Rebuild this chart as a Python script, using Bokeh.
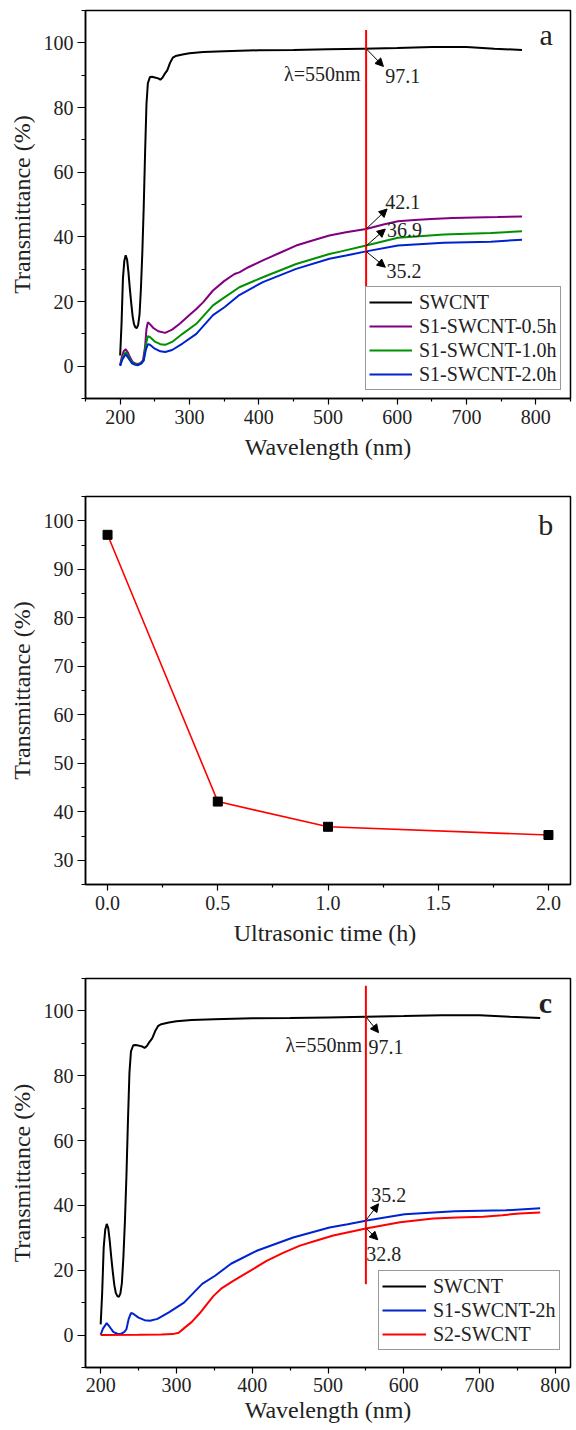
from bokeh.plotting import figure
from bokeh.layouts import column
from bokeh.models import (Range1d, FixedTicker, Legend, LegendItem, Label, Arrow,
                          NormalHead, PrintfTickFormatter, ColumnDataSource)
from bokeh.embed import file_html
from bokeh.resources import INLINE

FONT = "'Liberation Serif', 'Times New Roman', serif"

# ---------------- data ----------------
swcnt_wl = [200, 202, 204, 206, 208, 210, 212, 214, 216, 218, 220, 222, 224, 226, 228, 230, 232, 234,
            236, 238, 240, 243, 246, 250, 255, 258, 261, 264, 268, 272, 276, 280, 290, 300, 320, 350,
            400, 450, 500, 550, 600, 650, 700, 740, 780]
swcnt_T = [3.3, 13.0, 27.0, 32.5, 34.3, 33.0, 29.0, 24.0, 19.5, 15.5, 13.0, 12.0, 11.8, 12.8, 16.0, 24.0,
           35.0, 49.0, 66.0, 81.0, 87.5, 89.4, 89.5, 89.3, 89.0, 88.6, 89.2, 90.3, 91.5, 93.8, 95.4, 95.9,
           96.4, 96.8, 97.2, 97.4, 97.7, 97.8, 98.0, 98.2, 98.4, 98.7, 98.7, 98.2, 97.8]

s05_wl = [200, 202, 205, 208, 211, 214, 218, 222, 225, 229, 233, 236, 238, 240, 243, 248, 255, 265, 275,
          286, 300, 310, 320, 334, 350, 365, 372, 385, 406, 430, 454, 480, 502, 526, 555, 580, 601, 625,
          649, 680, 711, 745, 780]
s05_T = [0.3, 2.5, 4.6, 5.2, 4.3, 2.8, 1.3, 0.8, 0.7, 0.9, 1.8, 6.0, 11.5, 13.6, 13.0, 11.8, 10.8, 10.3,
         11.3, 13.1, 15.8, 17.7, 19.8, 23.4, 26.3, 28.5, 29.0, 30.6, 32.7, 35.0, 37.3, 39.0, 40.4, 41.4,
         42.4, 43.8, 44.8, 45.2, 45.5, 45.8, 46.0, 46.1, 46.3]

s10_wl = [200, 203, 208, 212, 217, 222, 226, 231, 234, 237, 240, 243, 250, 258, 265, 275, 290, 310, 334,
          350, 372, 406, 454, 502, 519, 555, 601, 667, 735, 780]
s10_T = [0.2, 2.4, 4.4, 3.0, 1.2, 0.6, 0.5, 1.0, 1.8, 6.5, 9.3, 9.0, 7.6, 6.8, 6.6, 7.5, 10.0, 13.1, 18.8,
         21.2, 24.4, 27.5, 31.6, 34.7, 35.5, 37.3, 39.7, 40.7, 41.2, 41.7]

s20_wl = [200, 203, 208, 212, 217, 222, 226, 231, 234, 237, 240, 243, 250, 258, 265, 275, 290, 310, 334,
          351, 372, 406, 454, 502, 526, 555, 601, 667, 735, 780]
s20_T = [0.1, 2.0, 3.7, 2.5, 0.9, 0.4, 0.3, 0.9, 1.8, 5.0, 6.8, 6.6, 5.4, 4.6, 4.4, 5.0, 7.0, 10.0, 15.8,
         18.3, 22.0, 26.0, 30.1, 33.2, 34.2, 35.5, 37.3, 38.2, 38.5, 39.1]

s2_wl = [200, 250, 280, 295, 303, 311, 320, 331, 340, 349, 360, 375, 400, 419, 440, 463, 485, 507, 550,
         595, 639, 670, 705, 730, 753, 780]
s2_T = [0.0, 0.1, 0.2, 0.3, 0.7, 2.3, 4.0, 6.8, 9.5, 12.1, 14.5, 16.7, 20.2, 22.9, 25.3, 27.6, 29.2, 30.7,
        32.9, 34.8, 36.0, 36.3, 36.5, 37.0, 37.5, 37.8]

time_h = [0.0, 0.5, 1.0, 2.0]
trans_550 = [97.1, 42.1, 36.9, 35.2]

wl_ticks = [200, 300, 400, 500, 600, 700, 800]
T_ticks = [0, 20, 40, 60, 80, 100]
time_ticks = [0.0, 0.5, 1.0, 1.5, 2.0]
b_ticks = [30, 40, 50, 60, 70, 80, 90, 100]

# marker line at lambda = 550 nm (as drawn)
mark_a_x = 555
mark_a_y = [24.4, 104.0]
mark_c_x = 550
mark_c_y = [15.7, 107.8]

C_BLACK = "#000000"
C_PURPLE = "#800080"
C_GREEN = "#009000"
C_BLUE = "#0022D0"
C_RED = "#FF0000"


def style(p, xticks, xminor, yticks, yminor, xfmt=None, tick_std=5, lab_std=7):
    p.outline_line_color = "black"
    p.outline_line_width = 1.5
    p.grid.visible = False
    for ax in (p.xaxis[0], p.yaxis[0]):
        ax.axis_line_width = 1.5
        ax.major_tick_line_width = 1.2
        ax.minor_tick_line_width = 1.2
        ax.major_tick_in = 0
        ax.minor_tick_in = 0
        ax.major_label_text_font = FONT
        ax.major_label_text_font_size = "20px"
        ax.major_label_text_color = "#222222"
        ax.axis_label_text_font = FONT
        ax.axis_label_text_font_size = "24px"
        ax.axis_label_text_font_style = "normal"
        ax.axis_label_text_color = "#222222"
    p.xaxis[0].major_tick_out = 6
    p.xaxis[0].minor_tick_out = 3
    p.yaxis[0].major_tick_out = 8
    p.yaxis[0].minor_tick_out = 4
    p.xaxis[0].ticker = FixedTicker(ticks=xticks, minor_ticks=xminor)
    p.yaxis[0].ticker = FixedTicker(ticks=yticks, minor_ticks=yminor)
    p.xaxis[0].major_label_standoff = tick_std
    p.xaxis[0].axis_label_standoff = lab_std
    p.yaxis[0].major_label_standoff = 4
    p.yaxis[0].axis_label_standoff = 6
    if xfmt:
        p.xaxis[0].formatter = xfmt


def make_fig(xr, yr, h, top, bottom):
    return figure(width=576, height=h, x_range=Range1d(*xr), y_range=Range1d(*yr),
                  output_backend="svg", toolbar_location=None, title=None,
                  min_border_left=85, min_border_right=6, min_border_top=top,
                  min_border_bottom=bottom, background_fill_color="white",
                  border_fill_color="white")


def add_text(p, x, y, t, size="20px", align="left", base="middle", style_="normal"):
    p.add_layout(Label(x=x, y=y, text=t, text_font=FONT, text_font_size=size,
                       text_align=align, text_baseline=base, text_color="#222222",
                       text_font_style=style_))


def add_arrow(p, x0, y0, x1, y1):
    p.add_layout(Arrow(end=NormalHead(size=8, fill_color="black", line_color="black", line_width=1),
                       x_start=x0, y_start=y0, x_end=x1, y_end=y1,
                       line_color="black", line_width=1))


def make_legend(p, items, loc, gw):
    leg = Legend(items=items, location=loc, padding=3, spacing=0, margin=0,
                 label_height=24, glyph_height=24, glyph_width=gw, label_standoff=7,
                 label_text_font=FONT, label_text_font_size="20px", label_text_color="#222222",
                 border_line_color="#333333", border_line_width=1.2,
                 background_fill_color="white", background_fill_alpha=1.0)
    p.add_layout(leg, "center")


# ---------------- panel a ----------------
pa = make_fig((150, 850), (-10, 110), 470, 10, 72)
style(pa, wl_ticks, [150, 250, 350, 450, 550, 650, 750, 850], T_ticks, [-10, 10, 30, 50, 70, 90, 110])
pa.xaxis.axis_label = "Wavelength (nm)"
pa.yaxis.axis_label = "Transmittance (%)"

la0 = pa.line(swcnt_wl, swcnt_T, line_color=C_BLACK, line_width=2)
la1 = pa.line(s05_wl, s05_T, line_color=C_PURPLE, line_width=2)
la2 = pa.line(s10_wl, s10_T, line_color=C_GREEN, line_width=2)
la3 = pa.line(s20_wl, s20_T, line_color=C_BLUE, line_width=2)
pa.line([mark_a_x, mark_a_x], mark_a_y, line_color=C_RED, line_width=2)

add_text(pa, 547, 90.5, "λ=550nm", align="right")
add_arrow(pa, 555, 98.2, 580, 92.7)
add_text(pa, 582.7, 89.7, "97.1")
add_arrow(pa, 555, 42.4, 585.3, 48.6)
add_text(pa, 582.7, 50.9, "42.1")
add_arrow(pa, 555, 37.2, 582.7, 42.4)
add_text(pa, 585.3, 42.0, "36.9")
add_arrow(pa, 555, 35.5, 582.7, 30.6)
add_text(pa, 584.3, 29.3, "35.2")
add_text(pa, 815, 102.7, "a", size="30px", align="center", base="alphabetic")

make_legend(pa, [LegendItem(label="SWCNT", renderers=[la0]),
                 LegendItem(label="S1-SWCNT-0.5h", renderers=[la1]),
                 LegendItem(label="S1-SWCNT-1.0h", renderers=[la2]),
                 LegendItem(label="S1-SWCNT-2.0h", renderers=[la3])], (280, 8), 43)

# ---------------- panel b ----------------
pb = make_fig((-0.1, 2.1), (25, 105), 485, 26, 71)
style(pb, time_ticks, [0.25, 0.75, 1.25, 1.75], b_ticks, [25, 35, 45, 55, 65, 75, 85, 95, 105],
      xfmt=PrintfTickFormatter(format="%.1f"))
pb.xaxis.axis_label = "Ultrasonic  time (h)"
pb.yaxis.axis_label = "Transmittance (%)"
src_b = ColumnDataSource(dict(t=time_h, v=trans_550))
pb.line("t", "v", source=src_b, line_color=C_RED, line_width=1.6)
pb.scatter("t", "v", source=src_b, marker="square", size=9, fill_color="black", line_color="black")
add_text(pb, 1.988, 99.3, "b", size="30px", align="center", base="alphabetic")

# ---------------- panel c ----------------
pc = make_fig((180, 820), (-10, 110), 475, 23, 63)
style(pc, wl_ticks, [250, 350, 450, 550, 650, 750], T_ticks, [-10, 10, 30, 50, 70, 90, 110],
      tick_std=4, lab_std=2)
pc.xaxis.axis_label = "Wavelength (nm)"
pc.yaxis.axis_label = "Transmittance (%)"
lc0 = pc.line(swcnt_wl, swcnt_T, line_color=C_BLACK, line_width=2)
lc1 = pc.line(s20_wl, s20_T, line_color=C_BLUE, line_width=2)
lc2 = pc.line(s2_wl, s2_T, line_color=C_RED, line_width=2)
pc.line([mark_c_x, mark_c_x], mark_c_y, line_color=C_RED, line_width=2)

add_text(pc, 544.8, 89.5, "λ=550nm", align="right")
add_arrow(pc, 550, 98.2, 566.7, 93.3)
add_text(pc, 553.6, 88.9, "97.1")
add_arrow(pc, 550, 35.4, 566.7, 40.5)
add_text(pc, 557, 43.3, "35.2")
add_arrow(pc, 550, 33.0, 565.7, 29.4)
add_text(pc, 550.6, 25.0, "32.8")
add_text(pc, 787, 102.6, "c", size="30px", align="center", base="alphabetic", style_="bold")

make_legend(pc, [LegendItem(label="SWCNT", renderers=[lc0]),
                 LegendItem(label="S1-SWCNT-2h", renderers=[lc1]),
                 LegendItem(label="S2-SWCNT", renderers=[lc2])], (293, 17), 44)

layout = column(pa, pb, pc, spacing=0)
open("out.html", "w").write(file_html(layout, INLINE))
